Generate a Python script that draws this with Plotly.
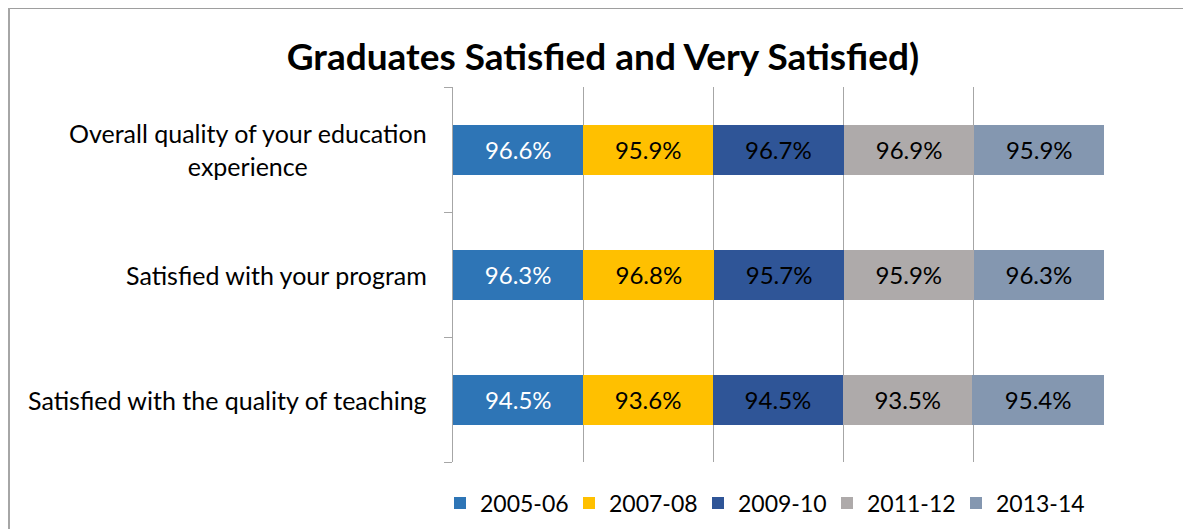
import plotly.graph_objects as go

categories = ["Overall quality of your education<br>experience",
              "Satisfied with your program",
              "Satisfied with the quality of teaching"]
years = ["2005-06", "2007-08", "2009-10", "2011-12", "2013-14"]
v2005 = [96.6, 96.3, 94.5]
v2007 = [95.9, 96.8, 93.6]
v2009 = [96.7, 95.7, 94.5]
v2011 = [96.9, 95.9, 93.5]
v2013 = [95.9, 96.3, 95.4]
series = [v2005, v2007, v2009, v2011, v2013]
colors = ["#2E75B6", "#FFC000", "#2F5597", "#AEAAAA", "#8497B0"]
text_colors = ["white", "black", "black", "black", "black"]

FONT = "Lato"

# page body has an 8px margin; figure is sized/positioned to compensate
W, H = 1183, 521
L, R, T, B = 445, 87, 79, 67
PW, PH = W - L - R, H - T - B

fig = go.Figure()
for name, vals, col, tc in zip(years, series, colors, text_colors):
    fig.add_trace(go.Bar(
        y=categories, x=vals, name=name, orientation="h",
        marker=dict(color=col, line=dict(width=0)),
        text=[f"{v:.1f}%" for v in vals], textposition="inside",
        insidetextanchor="middle",
        textfont=dict(color=tc, size=24, family=FONT),
        hoverinfo="skip",
    ))

# category labels, centred multi-line like the original
for c in categories:
    fig.add_annotation(x=-24 / PW, xref="paper", y=c, yref="y", text=c,
                       showarrow=False, xanchor="right", yanchor="middle",
                       align="center", font=dict(size=25, family=FONT, color="black"))

fig.update_layout(
    barmode="stack", barnorm="percent", bargap=0.6,
    width=W, height=H,
    margin=dict(l=L, r=R, t=T, b=B, autoexpand=False),
    paper_bgcolor="white", plot_bgcolor="white",
    font=dict(family=FONT, size=22, color="black"),
    title=dict(text="<b>Graduates Satisfied and Very Satisfied)</b>",
               x=595 / W, xanchor="center", y=1 - 49 / H, yanchor="middle",
               font=dict(size=37, family=FONT, color="black")),
    legend=dict(orientation="h", xref="container", x=432 / W, xanchor="left",
                yref="container", y=(H - 495) / H, yanchor="middle",
                font=dict(size=23, family=FONT), traceorder="normal",
                itemwidth=30, tracegroupgap=0, entrywidth=84, entrywidthmode="pixels"),
)
fig.update_xaxes(range=[0, 100], dtick=20, showticklabels=False, showgrid=True,
                 gridcolor="#A6A6A6", gridwidth=1.3, zeroline=False, showline=False)
fig.update_yaxes(categoryorder="array", categoryarray=categories[::-1],
                 showline=True, linecolor="#A6A6A6", linewidth=1.3,
                 ticks="outside", tickson="boundaries", ticklen=8, tickcolor="#A6A6A6",
                 showgrid=False, showticklabels=False)

# outer chart-area border (top and left edges visible)
top = 1 + T / PH
left = (1 - L) / PW
fig.add_shape(type="line", xref="paper", yref="paper",
              x0=left, x1=(W - L) / PW, y0=top, y1=top,
              line=dict(color="#9E9E9E", width=2))
fig.add_shape(type="line", xref="paper", yref="paper",
              x0=left, x1=left, y0=top, y1=-B / PH,
              line=dict(color="#A6A6A6", width=2))

fig.write_html("out.html")
